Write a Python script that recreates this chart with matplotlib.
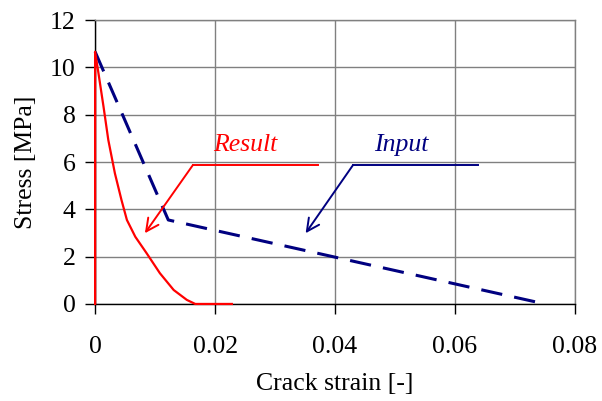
import matplotlib
matplotlib.use("Agg")
import matplotlib.pyplot as plt

# Tension softening: input curve (bilinear) and resulting curve
input_strain = [0.0, 0.0122, 0.075]
input_stress = [10.66, 3.55, 0.0]

result_strain = [0.0, 0.0, 0.00056, 0.0014, 0.0022, 0.0033, 0.0044, 0.0053,
                 0.0067, 0.0086, 0.0108, 0.0131, 0.0153, 0.0167, 0.0228]
result_stress = [0.0, 10.66, 9.75, 8.34, 6.93, 5.52, 4.39, 3.55,
                 2.84, 2.14, 1.30, 0.59, 0.17, 0.0, 0.0]

x_ticks = [0, 0.02, 0.04, 0.06, 0.08]
x_tick_labels = ["0", "0.02", "0.04", "0.06", "0.08"]
y_ticks = [0, 2, 4, 6, 8, 10, 12]

plt.rcParams["font.family"] = ["Liberation Serif", "DejaVu Serif"]
FS = 18.5

fig = plt.figure(figsize=(6.02, 4.01), dpi=100)
ax = fig.add_axes([0.158, 0.242, 0.797, 0.708])

ax.plot(result_strain, result_stress, color="#ff0000", lw=1.6, zorder=6,
        clip_on=False, solid_joinstyle="round")
ax.plot(input_strain, input_stress, color="#000080", lw=2.2,
        dashes=(7, 4), zorder=5, clip_on=False)

ax.set_xlim(0, 0.08)
ax.set_ylim(0, 12)
ax.set_xticks(x_ticks)
ax.set_xticklabels(x_tick_labels)
ax.set_yticks(y_ticks)
ax.grid(True, color="#808080", lw=1.0)
ax.set_axisbelow(True)

for side in ("top", "right"):
    ax.spines[side].set_color("#808080")
    ax.spines[side].set_linewidth(1.0)
for side in ("left", "bottom"):
    ax.spines[side].set_color("black")
    ax.spines[side].set_linewidth(1.0)

ax.tick_params(axis="both", direction="out", length=7, width=1,
               labelsize=FS, color="black")
ax.tick_params(axis="x", pad=16)
ax.tick_params(axis="y", pad=7)

ax.set_xlabel("Crack strain [-]", fontsize=FS, labelpad=11)
ax.set_ylabel("Stress [MPa]", fontsize=FS, labelpad=9)

# Callouts with an elbow leader and open arrowhead
def callout(label, color, text_xy, elbow_start, elbow_end, tip):
    ax.plot([elbow_start[0], elbow_end[0]], [elbow_start[1], elbow_end[1]],
            color=color, lw=1.4, zorder=7)
    ax.annotate("", xy=tip, xytext=elbow_start,
                arrowprops=dict(arrowstyle="->,head_length=0.9,head_width=0.45",
                                color=color, lw=1.4, shrinkA=0, shrinkB=0),
                zorder=7)
    ax.text(text_xy[0], text_xy[1], label, color=color, fontsize=FS,
            style="italic", ha="center", va="center", zorder=7)

callout("Result", "#ff0000", (0.025, 6.7), (0.0163, 5.87), (0.0372, 5.87),
        (0.0083, 2.99))
callout("Input", "#000080", (0.051, 6.7), (0.043, 5.87), (0.0638, 5.87),
        (0.0351, 2.99))

fig.savefig("out.png", dpi=100)
